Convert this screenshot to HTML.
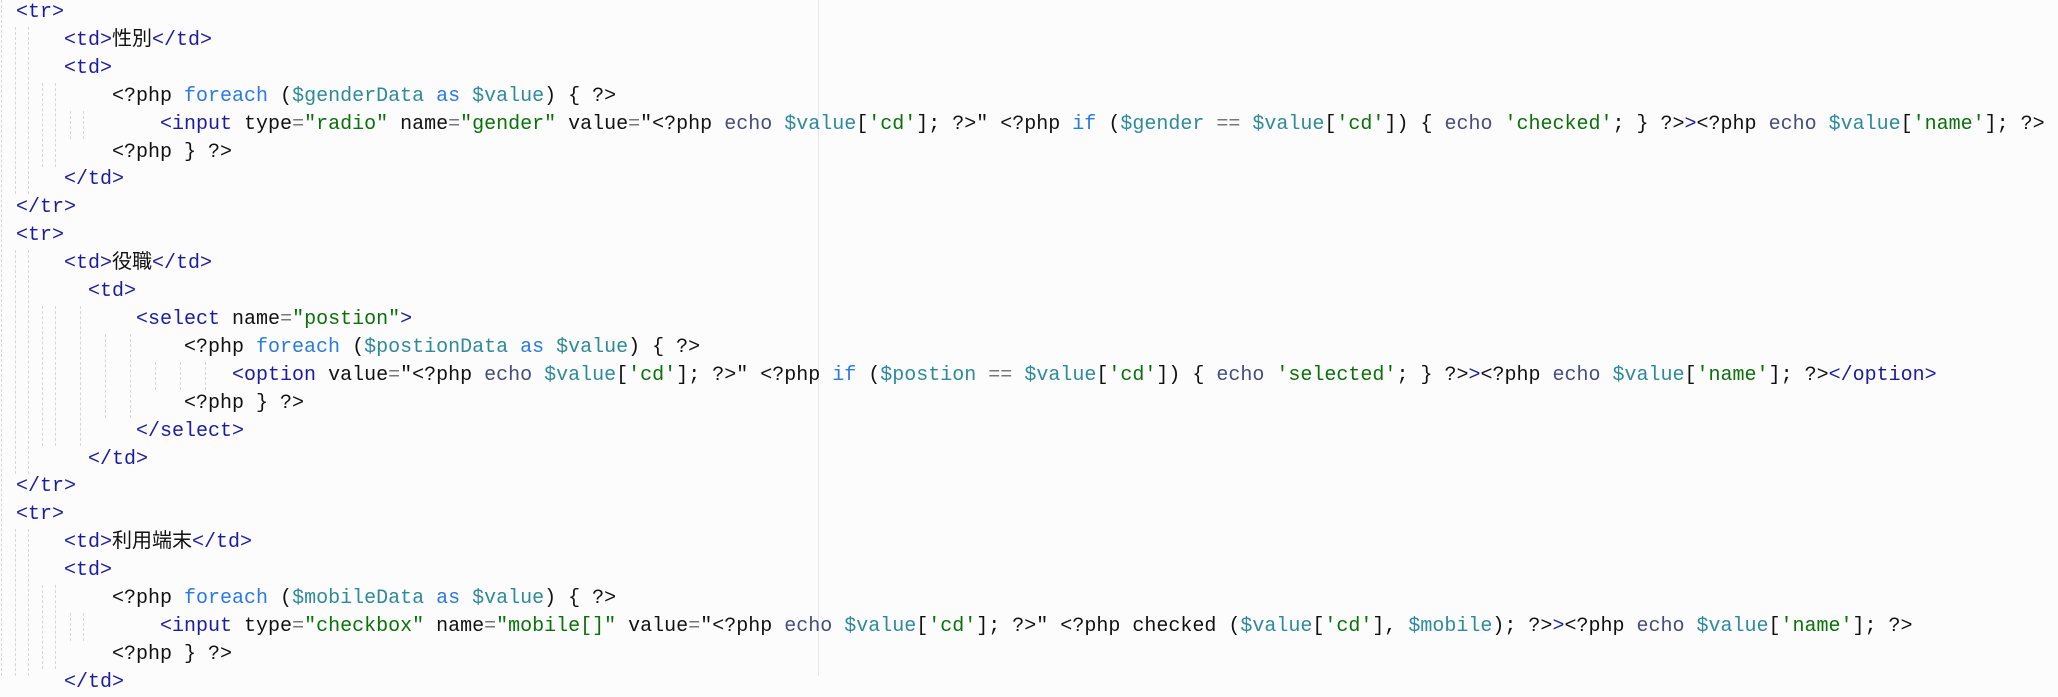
<!DOCTYPE html>
<html><head><meta charset="utf-8">
<style>
html,body{margin:0;padding:0;}
body{width:2058px;height:676px;background:#fcfcfc;position:relative;overflow:hidden;
font-family:"Liberation Mono","Noto Sans CJK JP",monospace;font-size:20px;color:#111;}
.l{position:absolute;left:16px;height:28px;line-height:28px;white-space:pre;}
.t{color:#1c1ca0}.a{color:#111}.s{color:#0a700a}.k{color:#2a7ae2}.v{color:#2e8a9b}.e{color:#464c7c}.q{color:#777}
.g{position:absolute;width:0;border-left:1px dashed #d6d6d6;}
.div{position:absolute;left:818px;top:0;width:1px;height:676px;background:#e6e6e6;}
</style></head><body>
<div class="div"></div>
<div class="g" style="left:1px;top:0;height:676px"></div>
<div class="g" style="left:15px;top:27px;height:167px"></div>
<div class="g" style="left:28px;top:27px;height:167px"></div>
<div class="g" style="left:42px;top:83px;height:84px"></div>
<div class="g" style="left:55px;top:83px;height:84px"></div>
<div class="g" style="left:70px;top:111px;height:28px"></div>
<div class="g" style="left:83px;top:111px;height:28px"></div>

<div class="g" style="left:15px;top:250px;height:224px"></div>
<div class="g" style="left:28px;top:250px;height:224px"></div>
<div class="g" style="left:42px;top:306px;height:140px"></div>
<div class="g" style="left:55px;top:306px;height:140px"></div>
<div class="g" style="left:80px;top:306px;height:140px"></div>
<div class="g" style="left:105px;top:334px;height:84px"></div>
<div class="g" style="left:130px;top:334px;height:84px"></div>
<div class="g" style="left:155px;top:362px;height:28px"></div>
<div class="g" style="left:180px;top:362px;height:28px"></div>
<div class="g" style="left:205px;top:362px;height:28px"></div>

<div class="g" style="left:15px;top:529px;height:147px"></div>
<div class="g" style="left:28px;top:529px;height:147px"></div>
<div class="g" style="left:42px;top:585px;height:84px"></div>
<div class="g" style="left:55px;top:585px;height:84px"></div>
<div class="g" style="left:70px;top:613px;height:28px"></div>
<div class="g" style="left:83px;top:613px;height:28px"></div>

<div class="l" style="top:-1px"><span class="t">&lt;tr&gt;</span></div>
<div class="l" style="top:27px">    <span class="t">&lt;td&gt;</span>性別<span class="t">&lt;/td&gt;</span></div>
<div class="l" style="top:55px">    <span class="t">&lt;td&gt;</span></div>
<div class="l" style="top:83px">        &lt;?php <span class="k">foreach</span> (<span class="v">$genderData</span> <span class="k">as</span> <span class="v">$value</span>) { ?&gt;</div>
<div class="l" style="top:111px">            <span class="t">&lt;input</span> type<span class="q">=</span><span class="s">"radio"</span> name<span class="q">=</span><span class="s">"gender"</span> value<span class="q">=</span>"&lt;?php <span class="e">echo</span> <span class="v">$value</span>[<span class="s">'cd'</span>]; ?&gt;" &lt;?php <span class="k">if</span> (<span class="v">$gender</span> <span class="q">==</span> <span class="v">$value</span>[<span class="s">'cd'</span>]) { <span class="e">echo</span> <span class="s">'checked'</span>; } ?&gt;<span class="t">&gt;</span>&lt;?php <span class="e">echo</span> <span class="v">$value</span>[<span class="s">'name'</span>]; ?&gt;</div>
<div class="l" style="top:139px">        &lt;?php } ?&gt;</div>
<div class="l" style="top:166px">    <span class="t">&lt;/td&gt;</span></div>
<div class="l" style="top:194px"><span class="t">&lt;/tr&gt;</span></div>
<div class="l" style="top:222px"><span class="t">&lt;tr&gt;</span></div>
<div class="l" style="top:250px">    <span class="t">&lt;td&gt;</span>役職<span class="t">&lt;/td&gt;</span></div>
<div class="l" style="top:278px">      <span class="t">&lt;td&gt;</span></div>
<div class="l" style="top:306px">          <span class="t">&lt;select</span> name<span class="q">=</span><span class="s">"postion"</span><span class="t">&gt;</span></div>
<div class="l" style="top:334px">              &lt;?php <span class="k">foreach</span> (<span class="v">$postionData</span> <span class="k">as</span> <span class="v">$value</span>) { ?&gt;</div>
<div class="l" style="top:362px">                  <span class="t">&lt;option</span> value<span class="q">=</span>"&lt;?php <span class="e">echo</span> <span class="v">$value</span>[<span class="s">'cd'</span>]; ?&gt;" &lt;?php <span class="k">if</span> (<span class="v">$postion</span> <span class="q">==</span> <span class="v">$value</span>[<span class="s">'cd'</span>]) { <span class="e">echo</span> <span class="s">'selected'</span>; } ?&gt;<span class="t">&gt;</span>&lt;?php <span class="e">echo</span> <span class="v">$value</span>[<span class="s">'name'</span>]; ?&gt;<span class="t">&lt;/option&gt;</span></div>
<div class="l" style="top:390px">              &lt;?php } ?&gt;</div>
<div class="l" style="top:418px">          <span class="t">&lt;/select&gt;</span></div>
<div class="l" style="top:446px">      <span class="t">&lt;/td&gt;</span></div>
<div class="l" style="top:473px"><span class="t">&lt;/tr&gt;</span></div>
<div class="l" style="top:501px"><span class="t">&lt;tr&gt;</span></div>
<div class="l" style="top:529px">    <span class="t">&lt;td&gt;</span>利用端末<span class="t">&lt;/td&gt;</span></div>
<div class="l" style="top:557px">    <span class="t">&lt;td&gt;</span></div>
<div class="l" style="top:585px">        &lt;?php <span class="k">foreach</span> (<span class="v">$mobileData</span> <span class="k">as</span> <span class="v">$value</span>) { ?&gt;</div>
<div class="l" style="top:613px">            <span class="t">&lt;input</span> type<span class="q">=</span><span class="s">"checkbox"</span> name<span class="q">=</span><span class="s">"mobile[]"</span> value<span class="q">=</span>"&lt;?php <span class="e">echo</span> <span class="v">$value</span>[<span class="s">'cd'</span>]; ?&gt;" &lt;?php checked (<span class="v">$value</span>[<span class="s">'cd'</span>], <span class="v">$mobile</span>); ?&gt;<span class="t">&gt;</span>&lt;?php <span class="e">echo</span> <span class="v">$value</span>[<span class="s">'name'</span>]; ?&gt;</div>
<div class="l" style="top:641px">        &lt;?php } ?&gt;</div>
<div class="l" style="top:669px">    <span class="t">&lt;/td&gt;</span></div>
</body></html>
